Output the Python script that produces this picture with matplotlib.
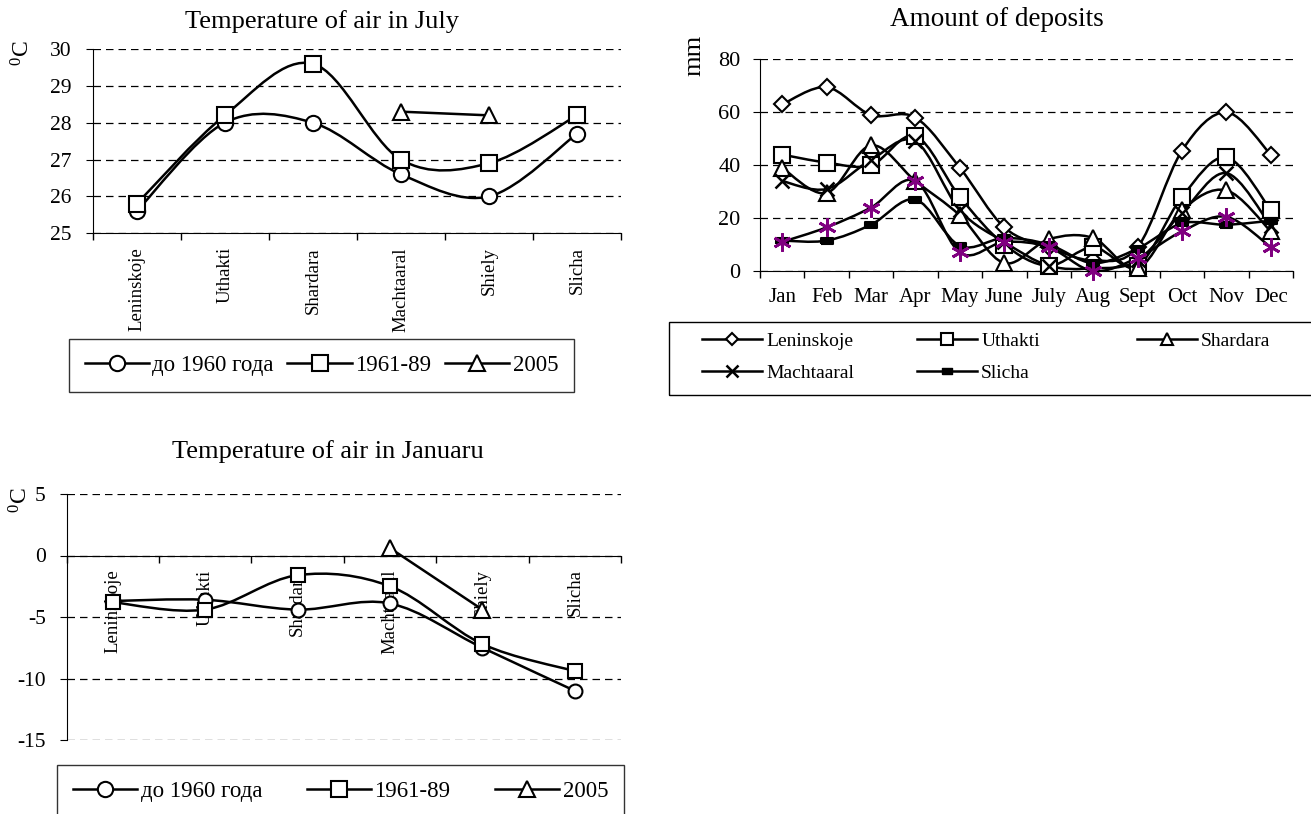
import numpy as np
import matplotlib
matplotlib.use("Agg")
import matplotlib.pyplot as plt
from matplotlib.path import Path
from matplotlib.patches import PathPatch, Rectangle
from matplotlib.lines import Line2D

plt.rcParams["font.family"] = ["Liberation Serif", "DejaVu Serif"]
plt.rcParams["mathtext.fontset"] = "custom"
plt.rcParams["mathtext.rm"] = "Liberation Serif"
plt.rcParams["mathtext.default"] = "regular"

nan = np.nan

# temperature charts
stations = ["Leninskoje", "Uthakti", "Shardara", "Machtaaral", "Shiely", "Slicha"]
period_labels = ["до 1960 года", "1961-89", "2005"]
july_before_1960 = [25.6, 28.0, 28.0, 26.6, 26.0, 27.7]
july_1961_89 = [25.8, 28.2, 29.6, 27.0, 26.9, 28.2]
july_2005 = [nan, nan, nan, 28.3, 28.2, nan]
jan_before_1960 = [-3.7, -3.6, -4.4, -3.9, -7.5, -11.0]
jan_1961_89 = [-3.8, -4.4, -1.6, -2.5, -7.2, -9.4]
jan_2005 = [nan, nan, nan, 0.6, -4.4, nan]

# deposits chart
months = ["Jan", "Feb", "Mar", "Apr", "May", "June", "July", "Aug", "Sept", "Oct", "Nov", "Dec"]
dep_leninskoje = [63, 69.5, 59, 58, 39, 16.5, 9, 4, 9, 45.5, 60, 44]
dep_uthakti = [44, 41, 40, 51, 28, 10, 2, 9, 2, 28, 43, 23]
dep_shardara = [39, 29.5, 47.5, 34, 21, 3, 12, 12.5, 1, 23, 30.5, 15]
dep_machtaaral = [34, 31, 42, 49, 23, 11, 2, 1, 4, 22, 37, 17]
dep_slicha = [11.5, 11.5, 17.5, 27, 9.5, 12.5, 10, 3, 8.5, 18, 17.5, 19]
dep_unnamed = [11, 16.5, 24, 34, 7, 11, 9, 0, 5, 15, 20.5, 9]

W, H = 1311, 814
DASH = (0, (6, 4))
rect_marker = [(-1, -0.55), (1, -0.55), (1, 0.55), (-1, 0.55), (-1, -0.55)]


def px_axes(fig, left, top, right, bottom):
    return fig.add_axes((left / W, 1 - bottom / H, (right - left) / W, (bottom - top) / H))


def smooth_line(ax, y, lw=1.8):
    # Excel-like smoothed line: cubic Bezier segments through the points
    x = np.arange(len(y), dtype=float)
    y = np.asarray(y, dtype=float)
    runs, cur = [], []
    for i, v in enumerate(y):
        if np.isnan(v):
            if cur:
                runs.append(cur)
            cur = []
        else:
            cur.append(i)
    if cur:
        runs.append(cur)
    for run in runs:
        if len(run) < 2:
            continue
        px, py = x[run], y[run]
        n = len(run)
        verts = [(px[0], py[0])]
        codes = [Path.MOVETO]
        for i in range(n - 1):
            i0 = max(i - 1, 0)
            i3 = min(i + 2, n - 1)
            c1 = (px[i] + (px[i + 1] - px[i0]) / 6, py[i] + (py[i + 1] - py[i0]) / 6)
            c2 = (px[i + 1] - (px[i3] - px[i]) / 6, py[i + 1] - (py[i3] - py[i]) / 6)
            verts += [c1, c2, (px[i + 1], py[i + 1])]
            codes += [Path.CURVE4] * 3
        ax.add_patch(PathPatch(Path(verts, codes), fill=False, edgecolor="black",
                               lw=lw, zorder=2, joinstyle="round", capstyle="round"))


def plot_series(ax, y, marker, ms, mfc="white", mec="black", lw=1.8, mew=1.5):
    smooth_line(ax, y, lw=lw)
    ax.plot(np.arange(len(y)), y, linestyle="none", marker=marker, ms=ms,
            mfc=mfc, mec=mec, mew=mew, zorder=3, clip_on=False)


def style_category_axis(ax, labels, label_size, label_pad, rotation):
    n = len(labels)
    ax.set_xlim(-0.5, n - 0.5)
    ax.set_xticks(range(n))
    ax.set_xticklabels(labels, rotation=rotation, fontsize=label_size)
    ax.set_xticks(np.arange(-0.5, n, 1.0), minor=True)
    ax.tick_params(axis="x", which="major", length=0, pad=label_pad)
    ax.tick_params(axis="x", which="minor", length=5, width=1, direction="out")
    ax.spines["top"].set_visible(False)
    ax.spines["right"].set_visible(False)
    ax.grid(True, axis="y", linestyle=DASH, color="black", lw=0.9)
    ax.set_axisbelow(True)


def temp_legend(ax, anchor, colspacing, borderpad):
    handles = [
        Line2D([], [], color="black", lw=1.8, marker="o", ms=11, mfc="white", mec="black", mew=1.5),
        Line2D([], [], color="black", lw=1.8, marker="s", ms=11, mfc="white", mec="black", mew=1.5),
        Line2D([], [], color="black", lw=1.8, marker="^", ms=12, mfc="white", mec="black", mew=1.5),
    ]
    leg = ax.figure.legend(handles, period_labels, ncol=3, loc="upper left",
                           bbox_to_anchor=anchor, fontsize=16.5, frameon=True, fancybox=False,
                           edgecolor="black", handlelength=2.8, handletextpad=0.15,
                           columnspacing=colspacing, borderpad=borderpad, borderaxespad=0)
    leg.get_frame().set_linewidth(1.0)
    return leg


fig = plt.figure(figsize=(W / 100, H / 100), dpi=100)

# ---- July ----
ax1 = px_axes(fig, 92.7, 49, 621, 233.3)
plot_series(ax1, july_before_1960, "o", 11)
plot_series(ax1, july_1961_89, "s", 11)
plot_series(ax1, july_2005, "^", 12)
ax1.set_ylim(25, 30)
ax1.set_yticks([25, 26, 27, 28, 29, 30])
ax1.tick_params(axis="y", labelsize=15.5, length=5, pad=10)
style_category_axis(ax1, stations, 13.5, 10, 90)
fig.text(322 / W, 1 - 22 / H, "Temperature of air in July", ha="center", va="center", fontsize=19)
fig.text(23 / W, 1 - 53 / H, "$^0$C", ha="center", va="center", rotation=90, fontsize=17)
temp_legend(ax1, (68.6 / W, 1 - 339 / H), 0.6, 0.7)

# ---- January ----
ax3 = px_axes(fig, 66.6, 494, 621, 740)
ax3.spines["bottom"].set_position(("data", 0))
plot_series(ax3, jan_before_1960, "o", 10)
plot_series(ax3, jan_1961_89, "s", 10)
plot_series(ax3, jan_2005, "^", 11)
ax3.set_ylim(-15, 5)
ax3.set_yticks([-15, -10, -5, 0, 5])
ax3.set_yticklabels(["-15", "-10", "-5", "0", "5"])
ax3.tick_params(axis="y", labelsize=15.5, length=5, pad=10)
style_category_axis(ax3, stations, 13.5, 10, 90)
fig.text(327.6 / W, 1 - 451.7 / H, "Temperature of air in Januaru", ha="center", va="center", fontsize=19)
fig.text(20.5 / W, 1 - 500 / H, "$^0$C", ha="center", va="center", rotation=90, fontsize=17)
temp_legend(ax3, (57 / W, 1 - 765 / H), 1.95, 0.7)

# ---- Deposits ----
ax2 = px_axes(fig, 760, 59.4, 1293, 271)
plot_series(ax2, dep_leninskoje, "D", 8.5)
plot_series(ax2, dep_uthakti, "s", 11)
plot_series(ax2, dep_shardara, "^", 11)
plot_series(ax2, dep_machtaaral, "x", 10, mew=1.8)
plot_series(ax2, dep_slicha, rect_marker, 8, mfc="black")
plot_series(ax2, dep_unnamed, (6, 2, 0), 13, mec="#800080", mew=2)
ax2.set_ylim(0, 80)
ax2.set_yticks([0, 20, 40, 60, 80])
ax2.tick_params(axis="y", labelsize=16, length=5, pad=9)
style_category_axis(ax2, months, 15, 12, 0)
fig.text(997 / W, 1 - 20 / H, "Amount of deposits", ha="center", va="center", fontsize=19.5)
fig.text(694 / W, 1 - 55 / H, "mm", ha="center", va="center", rotation=90, fontsize=19)

dep_handles = [
    Line2D([], [], color="black", lw=1.8, marker="D", ms=6.5, mfc="white", mec="black", mew=1.5),
    Line2D([], [], color="black", lw=1.8, marker="s", ms=8, mfc="white", mec="black", mew=1.5),
    Line2D([], [], color="black", lw=1.8, marker="^", ms=8, mfc="white", mec="black", mew=1.5),
    Line2D([], [], color="black", lw=1.8, marker="x", ms=8, mec="black", mew=1.8),
    Line2D([], [], color="black", lw=1.8, marker=rect_marker, ms=7, mfc="black", mec="black"),
]
dep_names = ["Leninskoje", "Uthakti", "Shardara", "Machtaaral", "Slicha"]
columns = [([0, 3], 702), ([1, 4], 917), ([2], 1137)]
for idx, xpos in columns:
    fig.legend([dep_handles[i] for i in idx], [dep_names[i] for i in idx],
               loc="upper left", bbox_to_anchor=(xpos / W, 1 - 332 / H), fontsize=14,
               frameon=False, handlelength=3.1, handletextpad=0.2, labelspacing=0.75,
               borderpad=0, borderaxespad=0)
fig.add_artist(Rectangle((669 / W, 1 - 395 / H), (1330 - 669) / W, (395 - 321.7) / H,
                         transform=fig.transFigure, fill=False, edgecolor="black", lw=1.0))

fig.savefig("out.png", dpi=100)
